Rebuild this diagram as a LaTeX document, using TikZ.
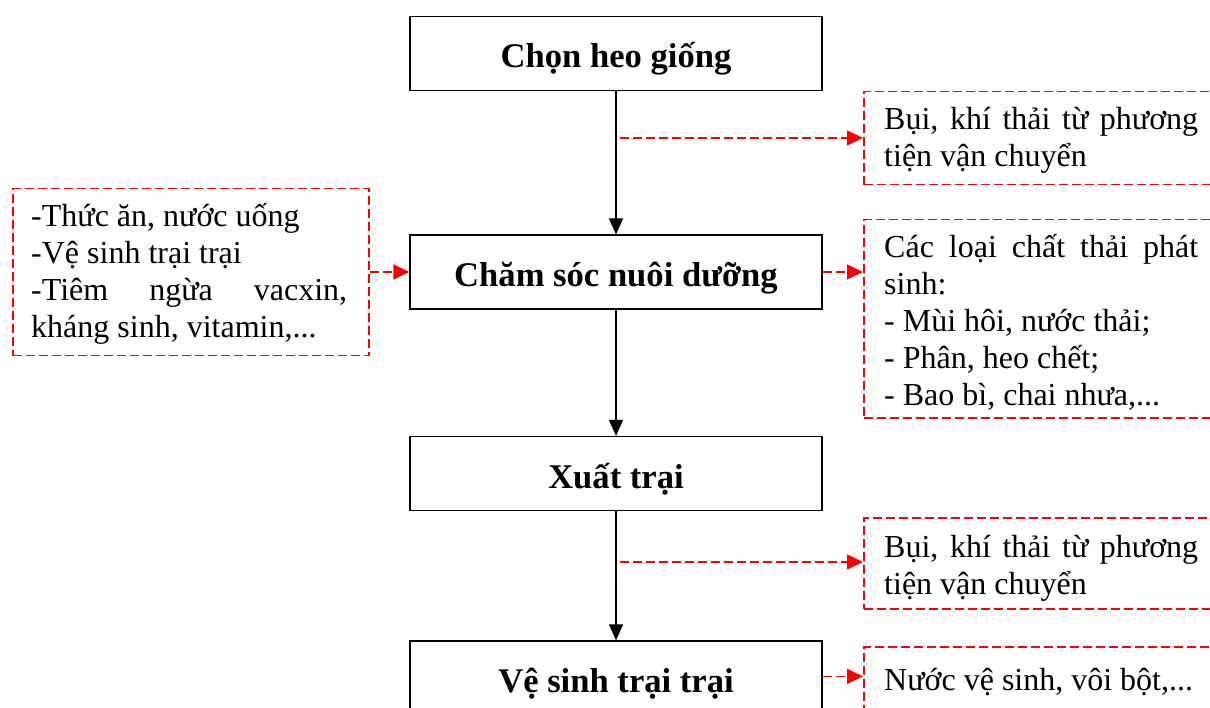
\documentclass[tikz,border=0pt]{standalone}
\usepackage{fontspec}
\setmainfont{Liberation Serif}
\usetikzlibrary{arrows.meta}
\definecolor{linkred}{RGB}{255,0,0}
\tikzset{
  mainbox/.style={draw=black, line width=1.2pt, minimum width=412pt, minimum height=74pt,
    inner sep=0pt, text height=29pt, text depth=0pt,
    font=\fontsize{34.6}{40}\selectfont\bfseries},
  notebox/.style={draw=linkred, color=linkred, line width=1.5pt, dash pattern=on 9pt off 4pt,
    inner sep=0pt, anchor=north west},
  notetext/.style={anchor=base west, inner sep=0pt, text=black, font=\fontsize{32}{37}\selectfont},
  flow/.style={draw=black, line width=1.2pt, -{Triangle[length=16pt,width=14pt]}},
  feed/.style={draw=linkred, color=linkred, line width=1.5pt, dash pattern=on 9pt off 4pt,
    -{Triangle[length=16pt,width=15pt]}},
}
\begin{document}
\begin{tikzpicture}[x=1pt, y=-1pt]
\useasboundingbox (0,0) rectangle (1210,708);
\clip (0,0) rectangle (1210,708);

% main process steps
\node[mainbox] (chon)   at (616,53.5)  {Chọn heo giống};
\node[mainbox] (cham)   at (616,272)   {Chăm sóc nuôi dưỡng};
\node[mainbox] (xuat)   at (616,473.5) {Xuất trại};
\node[mainbox] (vesinh) at (616,678)   {Vệ sinh trại trại};

% inputs and emissions
\node[notebox, minimum width=356pt, minimum height=167pt] (lb) at (12,188) {};
\node[notetext] (lbt) at (31,227) {\parbox[t]{316pt}{%
  -Thức ăn, nước uống\\
  -Vệ sinh trại trại\\
  -Tiêm\hfill ngừa\hfill vacxin,\\
  kháng sinh, vitamin,...}};

\node[notebox, minimum width=360pt, minimum height=93pt] (r1) at (863,91) {};
\node[notetext] (r1t) at (884,130) {\parbox[t]{314pt}{%
  Bụi,\hfill khí\hfill thải\hfill từ\hfill phương\\
  tiện vận chuyển}};

\node[notebox, minimum width=360pt, minimum height=198pt] (r2) at (863,219) {};
\begin{scope}
  \clip (863,219) rectangle (1223,409);
  \node[notetext] (r2t) at (884,258) {\parbox[t]{314pt}{%
    Các\hfill loại\hfill chất\hfill thải\hfill phát\\
    sinh:\\
    - Mùi hôi, nước thải;\\
    - Phân, heo chết;\\
    - Bao bì, chai nhưa,...}};
\end{scope}

\node[notebox, minimum width=360pt, minimum height=91pt] (r3) at (863,517) {};
\node[notetext] (r3t) at (884,557) {\parbox[t]{314pt}{%
  Bụi,\hfill khí\hfill thải\hfill từ\hfill phương\\
  tiện vận chuyển}};

\node[notebox, minimum width=360pt, minimum height=80pt] (r4) at (863,646) {};
\node[notetext] (r4t) at (884,690) {Nước vệ sinh, vôi bột,...};

% process flow
\draw[flow] (chon) -- (cham);
\draw[flow] (cham) -- (xuat);
\draw[flow] (xuat) -- (vesinh);

% side connectors
\coordinate (s1) at (620,138);
\coordinate (s3) at (620,562);
\path (vesinh.north east) ++(0,36) coordinate (v4);
\draw[feed] (s1) -- (s1 -| r1.west);
\draw[feed] (lb.east |- cham.west) -- (cham.west);
\draw[feed] (cham.east) -- (cham.east -| r2.west);
\draw[feed] (s3) -- (s3 -| r3.west);
\draw[feed] (v4) -- (v4 -| r4.west);
\end{tikzpicture}
\end{document}
